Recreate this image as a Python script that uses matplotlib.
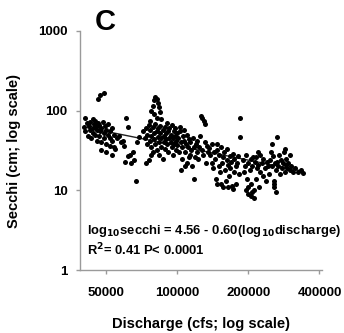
import matplotlib
matplotlib.use("Agg")
import matplotlib.pyplot as plt
import numpy as np

# discharge (thousand cfs) and secchi (cm)
discharge_k = [
    40.5, 41, 41.5, 42, 42.5, 43, 43, 43.5, 44, 44, 44.5, 45, 45, 45.5, 46, 46, 46.5, 47, 47, 47.5,
    48, 48, 48.5, 49, 49, 49.5, 50, 50, 51, 51, 52, 52, 53, 53, 54,
    46.5, 47.5, 49, 41, 44, 52, 55, 50, 53, 48, 56, 58, 54,
    57, 59, 60, 61, 62, 60.5, 62, 63.5, 64, 66, 65, 67, 68, 69,
    78, 79, 80, 81, 82, 83, 84, 80, 82, 85, 77, 86,
    72, 73, 74, 75, 75, 76, 77, 77, 78, 78, 79, 79, 80, 80, 81, 81, 82, 82, 83, 83,
    84, 84, 85, 85, 86, 86, 87, 87, 88, 88, 89, 89, 90, 90, 91, 91, 92, 92, 93, 93,
    94, 94, 95, 95, 96, 96, 97, 97, 98, 98, 99, 99, 100, 100, 74, 76, 78,
    101, 102, 103, 104, 105, 105, 106, 107, 108, 109, 110, 110, 111, 112, 113, 114, 115, 116,
    117, 118, 119, 120, 121, 122, 123, 124, 125, 126, 128, 130, 132, 127, 129, 131, 133, 134,
    135, 104, 108, 112, 118, 103, 107,
    136, 138, 140, 141, 142, 143, 145, 146, 147, 148, 150, 151, 152, 153, 155, 156, 157, 158,
    160, 161, 162, 163, 165, 166, 167, 168, 170, 172, 173, 174, 175, 177, 178, 180, 181, 183,
    184, 185, 148, 153, 164, 171,
    190, 192, 194, 195, 196, 198, 200, 200, 205, 203, 205, 206, 208, 208, 212, 213, 215, 216,
    218, 220, 222, 224, 225, 228, 230, 232, 235, 238, 240, 243, 245, 248, 250, 252, 253, 255,
    256, 258, 260, 199, 210, 221, 212,
    262, 265, 268, 270, 272, 275, 278, 280, 283, 285, 288, 290, 293, 296, 300, 303, 308, 315,
    325, 335, 340, 262, 258, 265, 287, 300,
]
secchi_cm = [
    62, 55, 70, 48, 65, 58, 72, 45, 60, 52, 68, 75, 50, 63, 57, 42, 70, 48, 66, 55,
    60, 40, 73, 52, 45, 64, 58, 38, 50, 68, 46, 56, 42, 60, 35,
    140, 158, 165, 80, 78, 36, 33, 30, 28, 32, 45, 40, 50,
    48, 42, 36, 80, 62, 23, 27, 28, 22, 24, 30, 13, 40, 47,
    100, 115, 135, 150, 140, 125, 110, 90, 82, 95, 75, 78,
    55, 45, 60, 38, 50, 66, 42, 58, 35, 48, 62, 30, 52, 44, 68, 38, 55, 32, 47, 60,
    40, 28, 52, 64, 45, 35, 58, 25, 48, 40, 62, 33, 52, 44, 70, 38, 56, 30, 46, 60,
    40, 50, 35, 66, 45, 28, 55, 38, 48, 60, 42, 32, 52, 37, 22, 24, 28,
    45, 30, 55, 40, 35, 25, 48, 42, 30, 38, 22, 50, 35, 44, 28, 40, 32, 20,
    45, 35, 26, 38, 30, 42, 25, 35, 48, 85, 80, 75, 68, 32, 28, 40, 22, 36,
    30, 18, 20, 26, 14, 62, 58,
    34, 28, 22, 38, 19, 30, 25, 14, 12, 32, 20, 28, 17, 35, 22, 11, 26, 30,
    18, 13, 24, 33, 21, 15, 27, 19, 23, 10.5, 29, 17, 25, 20, 12, 22, 27, 16,
    80, 47, 38, 12, 11, 11.5,
    24, 17, 20, 10, 28, 14, 22, 9, 8.5, 18, 25, 12, 20, 9.5, 8, 23, 26, 14,
    19, 21, 11, 17, 28, 22, 15, 25, 19, 13, 23, 20, 16, 24, 30, 38, 20, 27,
    12, 13, 22, 11, 26, 30, 10,
    18, 23, 20, 28, 16, 24, 19, 22, 30, 17, 21, 25, 19, 22, 18, 20, 17, 19,
    17, 18, 16.5, 9.5, 11, 47, 33, 28,
]

x_ticks = [50000, 100000, 200000, 400000]
y_ticks = [1, 10, 100, 1000]

# regression from the panel text
intercept = 4.56
slope = -0.60
fit_range = [42000, 340000]

discharge = np.array(discharge_k) * 1000
secchi = np.array(secchi_cm)

plt.rcParams['font.family'] = ['Liberation Sans', 'DejaVu Sans']
plt.rcParams['font.weight'] = 'bold'
plt.rcParams['mathtext.default'] = 'bf'

fig = plt.figure(figsize=(3.44, 3.33), dpi=100)
ax = fig.add_axes([0.233, 0.189, 0.703, 0.718])

ax.scatter(discharge, secchi, s=13, color='black', linewidths=0, zorder=3)

fx = np.array(fit_range, dtype=float)
fy = 10 ** (intercept + slope * np.log10(fx))
ax.plot(fx, fy, color='#222222', lw=1.0, zorder=2)

ax.set_xscale('log')
ax.set_yscale('log')
ax.set_xlim(39000, 410000)
ax.set_ylim(1, 1000)
ax.set_xticks(x_ticks)
ax.set_xticklabels([str(v) for v in x_ticks])
ax.set_yticks(y_ticks)
ax.set_yticklabels([str(v) for v in y_ticks])
ax.minorticks_off()

for s in ['top', 'right']:
    ax.spines[s].set_visible(False)
for s in ['left', 'bottom']:
    ax.spines[s].set_color('#9a9a9a')
    ax.spines[s].set_linewidth(1.0)
ax.tick_params(axis='both', colors='#9a9a9a', length=3, width=1,
               labelcolor='black', labelsize=9.5, pad=6)
ax.tick_params(axis='x', pad=9)

ax.set_xlabel('Discharge (cfs; log scale)', fontsize=10.5, fontweight='bold', labelpad=13)
ax.set_ylabel('Secchi (cm; log scale)', fontsize=10.5, fontweight='bold', labelpad=12)

ax.text(0.03, 0.165, r'log$_{10}$secchi = 4.56 - 0.60(log$_{10}$discharge)',
        transform=ax.transAxes, fontsize=9.4, fontweight='bold', va='center')
ax.text(0.03, 0.085, r'R$^2$= 0.41 P< 0.0001',
        transform=ax.transAxes, fontsize=9.4, fontweight='bold', va='center')

fig.text(0.305, 0.935, 'C', fontsize=21, fontweight='bold', ha='center', va='center')

fig.savefig('out.png', dpi=100)
